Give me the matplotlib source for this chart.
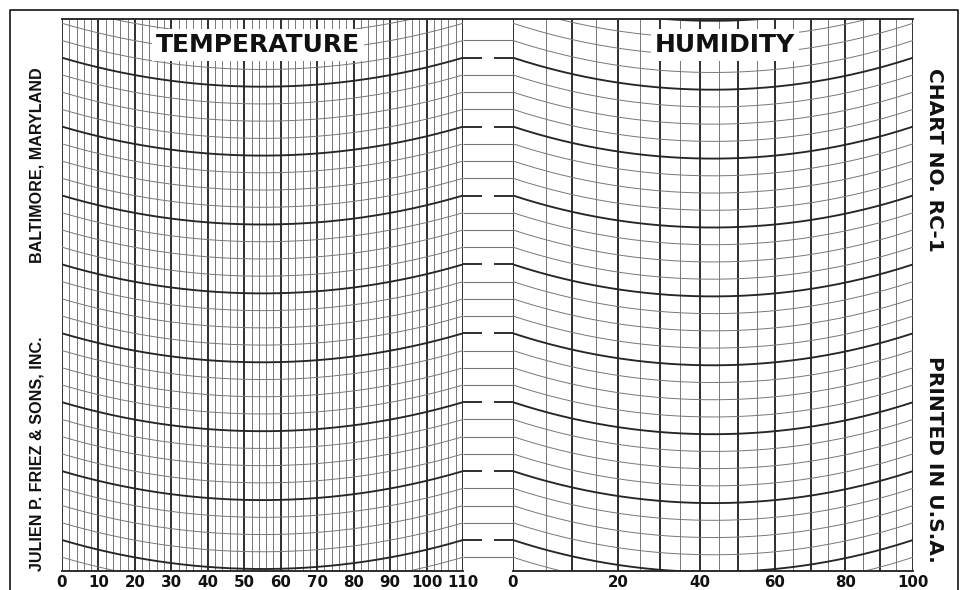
import numpy as np
import matplotlib.pyplot as plt
from matplotlib.lines import Line2D

# chart paper values
temp_labels = [0, 10, 20, 30, 40, 50, 60, 70, 80, 90, 100, 110]
temp_step = 2
hum_labels = [0, 20, 40, 60, 80, 100]
hum_bold = [0, 10, 20, 30, 40, 50, 60, 70, 80, 90, 100]
hum_step = 5
hum_power = 0.83          # hair hygrometer scale
day_lines = [0, 1, 2, 3, 4, 5, 6, 7]
sub_div = 4

#layout (pixels)
W, H = 962, 590
GRID_TOP, GRID_BOT = 19, 571
T_X0, T_X1 = 62, 463
H_X0, H_X1 = 513, 913
UNIT_PX = 68.9
K0_PX = 540
Y_LO = (K0_PX - GRID_BOT) / UNIT_PX
Y_HI = (K0_PX - GRID_TOP) / UNIT_PX

DARK = '#262626'
THIN = '#777777'
BOLD_LW, THIN_LW = 1.35, 0.7

fig = plt.figure(figsize=(W / 100, H / 100), dpi=100)
fig.patch.set_facecolor('white')


def make_axes(x0, x1):
    ax = fig.add_axes([x0 / W, 1 - GRID_BOT / H, (x1 - x0) / W, (GRID_BOT - GRID_TOP) / H])
    ax.set_ylim(Y_LO, Y_HI)
    for s in ax.spines.values():
        s.set_visible(False)
    ax.set_yticks([])
    ax.tick_params(axis='x', length=0, pad=3.2)
    ax.patch.set_alpha(0)
    return ax


def draw_arcs(ax, sag):
    # arcs of the pen arm, computed in pixel space
    w_px = ax.get_position().width * W
    half = w_px / 2
    R = (half ** 2 + sag ** 2) / (2 * sag)
    u = np.linspace(0, 1, 200)
    s = R - np.sqrt(R ** 2 - ((u - 0.5) * w_px) ** 2)
    drop = (sag - s) / UNIT_PX
    tr = ax.get_yaxis_transform()
    n = len(day_lines)
    for i in range(-sub_div, (n + 1) * sub_div + 1):
        k = i / sub_div
        bold = i % sub_div == 0
        ax.plot(u, k - drop, transform=tr, color=DARK if bold else THIN,
                lw=BOLD_LW if bold else THIN_LW, solid_capstyle='butt')


# temperature
ax_t = make_axes(T_X0, T_X1)
ax_t.set_xlim(0, 110)
for x in np.arange(0, 110 + 1, temp_step):
    bold = x % 10 == 0
    ax_t.axvline(x, color=DARK if bold else THIN, lw=BOLD_LW if bold else THIN_LW)
draw_arcs(ax_t, 29)
ax_t.axhline(Y_LO, color=DARK, lw=BOLD_LW, clip_on=False)
ax_t.set_xticks(temp_labels, [str(v) for v in temp_labels],
                fontsize=10.8, fontweight='bold', color='#111')

# humidity
ax_h = make_axes(H_X0, H_X1)
ax_h.set_xscale('function', functions=(
    lambda h: 100 * (np.clip(h, 0, None) / 100) ** hum_power,
    lambda u: 100 * (np.clip(u, 0, None) / 100) ** (1 / hum_power)))
ax_h.set_xlim(0, 100)
for x in np.arange(0, 100 + 1, hum_step):
    bold = x in hum_bold
    ax_h.axvline(x, color=DARK if bold else THIN, lw=BOLD_LW if bold else THIN_LW)
draw_arcs(ax_h, 32)
ax_h.axhline(Y_LO, color=DARK, lw=BOLD_LW, clip_on=False)
ax_h.set_xticks(hum_labels, [str(v) for v in hum_labels],
                fontsize=10.8, fontweight='bold', color='#111')
ax_h.xaxis.set_minor_locator(plt.NullLocator())

# middle strip
ax_m = make_axes(T_X1, H_X0)
ax_m.set_xlim(0, 1)
ax_m.set_xticks([])
for i in range(-1, (len(day_lines) - 1) * sub_div + 2):
    k = i / sub_div
    if i % sub_div == 0:
        ax_m.hlines(k, 0, 0.38, color=DARK, lw=BOLD_LW)
        ax_m.hlines(k, 0.62, 1, color=DARK, lw=BOLD_LW)
    else:
        ax_m.hlines(k, 0, 1, color=THIN, lw=THIN_LW + 0.1)

# top rule and outer border
fig.add_artist(Line2D([T_X0 / W, H_X1 / W], [1 - GRID_TOP / H] * 2, color=DARK, lw=BOLD_LW))
bx0, bx1, by0 = 10 / W, 958 / W, 1 - 10 / H
fig.add_artist(Line2D([bx0, bx0, bx1, bx1], [0, by0, by0, 0], color=DARK, lw=1.3))

# titles
ax_t.text((258 - T_X0) / (T_X1 - T_X0), (GRID_BOT - 45) / (GRID_BOT - GRID_TOP), 'TEMPERATURE',
          transform=ax_t.transAxes, ha='center', va='center', fontsize=18, fontweight='bold',
          color='#111', zorder=5,
          bbox=dict(facecolor='white', edgecolor='none', pad=3))
ax_h.text((725 - H_X0) / (H_X1 - H_X0), (GRID_BOT - 45) / (GRID_BOT - GRID_TOP), 'HUMIDITY',
          transform=ax_h.transAxes, ha='center', va='center', fontsize=18, fontweight='bold',
          color='#111', zorder=5,
          bbox=dict(facecolor='white', edgecolor='none', pad=3))

# side imprints
side = dict(family=['Liberation Sans', 'DejaVu Sans'], fontweight='bold', fontsize=11.6,
            color='#111', ha='center', va='center')
fig.text(37.5 / W, 1 - 165 / H, 'BALTIMORE, MARYLAND', rotation=90, **side)
fig.text(37.5 / W, 1 - 454 / H, 'JULIEN P. FRIEZ & SONS, INC.', rotation=90, **side)
fig.text(935 / W, 1 - 160 / H, 'CHART NO. RC-1', rotation=-90, fontsize=14.5,
         fontweight='bold', color='#111', ha='center', va='center')
fig.text(935 / W, 1 - 459 / H, 'PRINTED IN U.S.A.', rotation=-90, fontsize=14.5,
         fontweight='bold', color='#111', ha='center', va='center')

fig.savefig('out.png', dpi=100, facecolor='white')
